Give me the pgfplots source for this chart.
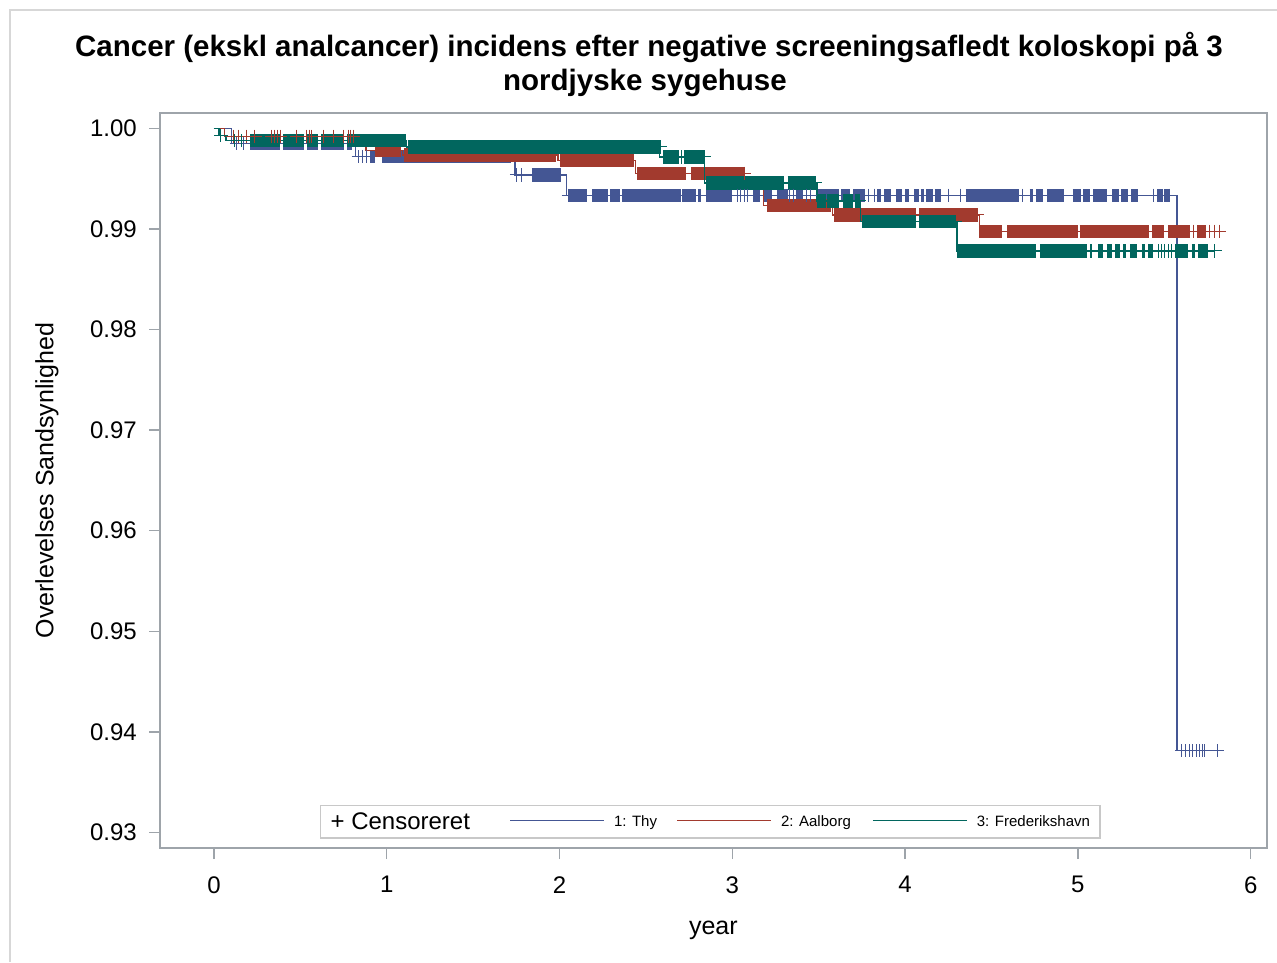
\documentclass[border=0pt]{standalone}
\usepackage{pgfplots}
\pgfplotsset{compat=1.18}
\usepackage{fontspec}
\setmainfont{Liberation Sans}
\definecolor{thy}{RGB}{68,86,148}
\definecolor{aal}{RGB}{162,58,46}
\definecolor{fre}{RGB}{1,102,94}
\definecolor{axisgray}{RGB}{158,164,170}
\definecolor{framegray}{RGB}{215,215,215}
\definecolor{leggray}{RGB}{200,200,200}
\begin{document}
\begin{tikzpicture}
\path[use as bounding box] (0pt,0pt) rectangle (638.5pt,481pt);
\draw[framegray, line width=0.6pt] (5pt,0pt) -- (5pt,476pt) -- (638.5pt,476pt);
\node[anchor=base, font=\bfseries\fontsize{14.75}{17}\selectfont] at (324.5pt,452.5pt) {Cancer (ekskl analcancer) incidens efter negative screeningsafledt koloskopi på 3};
\node[anchor=base, font=\bfseries\fontsize{14.75}{17}\selectfont] at (322.5pt,435.5pt) {nordjyske sygehuse};
\begin{axis}[
  at={(80pt,57pt)}, anchor=south west, scale only axis,
  width=553.35pt, height=367.35pt,
  xmin=-0.3125, xmax=6.0927, ymin=0.92845, ymax=1.00149,
  xtick={0,1,2,3,4,5,6},
  ytick={0.93,0.94,0.95,0.96,0.97,0.98,0.99,1.00},
  yticklabel style={/pgf/number format/.cd, fixed, fixed zerofill, precision=2},
  /pgf/number format/assume math mode=true,
  tick align=outside, tick pos=left, major tick length=5.5pt,
  tick style={color=axisgray, line width=0.7pt},
  axis line style={color=axisgray, line width=0.8pt},
  ticklabel style={font=\fontsize{12}{14}\selectfont, inner sep=0pt},
  xticklabel shift=8.5pt, yticklabel shift=5.9pt,
  every axis x label/.style={at={(axis description cs:0.5,0)}, anchor=base, yshift=-43pt, font=\fontsize{12.5}{14}\selectfont},
  every axis y label/.style={at={(axis description cs:-0.1021,0.5)}, rotate=90, anchor=center, font=\fontsize{12.5}{14}\selectfont},
  xlabel={year}, ylabel={Overlevelses Sandsynlighed},
  unbounded coords=jump,
]
% ---------- 1: Thy ----------
\addplot[thy, line width=0.7pt, const plot, forget plot] coordinates {
 (0,1.0) (0.10,0.99851) (0.82,0.99718) (1.742,0.99536) (2.04,0.99334) (5.573,0.93813) (5.81,0.93813)};
\addplot[thy, line width=6.6pt, forget plot] coordinates {
 (0.21,0.99851) (0.38,0.99851) (nan,nan) (0.40,0.99851) (0.52,0.99851) (nan,nan)
 (0.54,0.99851) (0.60,0.99851) (nan,nan) (0.62,0.99851) (0.75,0.99851) (nan,nan)
 (0.77,0.99851) (0.80,0.99851) (nan,nan)
 (0.90,0.99718) (0.93,0.99718) (nan,nan) (0.97,0.99718) (1.72,0.99718) (nan,nan)
 (1.84,0.99536) (2.01,0.99536) (nan,nan)
 (2.05,0.99334) (2.16,0.99334) (nan,nan) (2.19,0.99334) (2.28,0.99334) (nan,nan)
 (2.29,0.99334) (2.35,0.99334) (nan,nan) (2.36,0.99334) (2.70,0.99334) (nan,nan)
 (2.71,0.99334) (2.79,0.99334) (nan,nan) (2.80,0.99334) (2.82,0.99334) (nan,nan)
 (2.85,0.99334) (3.00,0.99334) (nan,nan) (3.12,0.99334) (3.16,0.99334) (nan,nan)
 (3.18,0.99334) (3.23,0.99334) (nan,nan) (3.26,0.99334) (3.32,0.99334) (nan,nan)
 (3.37,0.99334) (3.41,0.99334) (nan,nan) (3.49,0.99334) (3.62,0.99334) (nan,nan)
 (3.63,0.99334) (3.68,0.99334) (nan,nan) (3.70,0.99334) (3.77,0.99334) (nan,nan)
 (3.84,0.99334) (3.86,0.99334) (nan,nan) (3.88,0.99334) (3.92,0.99334) (nan,nan)
 (3.95,0.99334) (3.98,0.99334) (nan,nan) (4.00,0.99334) (4.02,0.99334) (nan,nan)
 (4.05,0.99334) (4.08,0.99334) (nan,nan) (4.09,0.99334) (4.11,0.99334) (nan,nan)
 (4.12,0.99334) (4.16,0.99334) (nan,nan) (4.17,0.99334) (4.21,0.99334) (nan,nan)
 (4.35,0.99334) (4.66,0.99334) (nan,nan) (4.72,0.99334) (4.74,0.99334) (nan,nan)
 (4.76,0.99334) (4.80,0.99334) (nan,nan) (4.82,0.99334) (4.92,0.99334) (nan,nan)
 (4.97,0.99334) (5.02,0.99334) (nan,nan) (5.03,0.99334) (5.07,0.99334) (nan,nan)
 (5.09,0.99334) (5.17,0.99334) (nan,nan) (5.20,0.99334) (5.24,0.99334) (nan,nan)
 (5.25,0.99334) (5.29,0.99334) (nan,nan) (5.31,0.99334) (5.35,0.99334) (nan,nan)
 (5.46,0.99334) (5.49,0.99334) (nan,nan) (5.50,0.99334) (5.53,0.99334)};
\addplot[thy, only marks, mark=+, mark size=3.3pt, mark options={line width=0.5pt}, forget plot] coordinates {
 (0.13,0.99851) (0.17,0.99851)
 (0.835,0.99718) (0.86,0.99718) (0.88,0.99718)
 (1.75,0.99536) (1.78,0.99536)
 (2.05,0.99334) (3.03,0.99334) (3.05,0.99334) (3.07,0.99334) (3.09,0.99334)
 (3.333,0.99334) (3.351,0.99334) (3.43,0.99334) (3.45,0.99334)
 (3.79,0.99334) (3.82,0.99334) (4.25,0.99334) (4.32,0.99334) (4.68,0.99334)
 (5.44,0.99334) (5.53,0.99334)
 (5.60,0.93813) (5.625,0.93813) (5.645,0.93813) (5.665,0.93813) (5.685,0.93813)
 (5.705,0.93813) (5.72,0.93813) (5.735,0.93813) (5.81,0.93813)};
% ---------- 2: Aalborg ----------
\addplot[aal, line width=0.7pt, const plot, forget plot] coordinates {
 (0,1.0) (0.06,0.9992) (0.88,0.99777) (1.09,0.99735) (1.99,0.99678) (2.44,0.99553)
 (3.07,0.9951) (3.18,0.9923) (3.58,0.99138) (4.43,0.98976) (5.82,0.98976)};
\addplot[aal, line width=6.6pt, forget plot] coordinates {
 (0.93,0.99777) (1.08,0.99777) (nan,nan)
 (1.10,0.99735) (1.98,0.99735) (nan,nan)
 (2.00,0.99678) (2.43,0.99678) (nan,nan)
 (2.45,0.99553) (2.73,0.99553) (nan,nan) (2.76,0.99553) (3.07,0.99553) (nan,nan)
 (3.20,0.9923) (3.57,0.9923) (nan,nan)
 (3.59,0.99138) (4.06,0.99138) (nan,nan) (4.08,0.99138) (4.42,0.99138) (nan,nan)
 (4.43,0.98976) (4.56,0.98976) (nan,nan) (4.59,0.98976) (5.00,0.98976) (nan,nan)
 (5.01,0.98976) (5.41,0.98976) (nan,nan) (5.43,0.98976) (5.50,0.98976) (nan,nan)
 (5.52,0.98976) (5.65,0.98976) (nan,nan) (5.69,0.98976) (5.74,0.98976)};
\addplot[aal, only marks, mark=+, mark size=3.3pt, mark options={line width=0.5pt}, forget plot] coordinates {
 (0.11,0.9992) (0.14,0.9992) (0.19,0.9992) (0.237,0.9992) (0.334,0.9992) (0.353,0.9992)
 (0.366,0.9992) (0.382,0.9992) (0.478,0.9992) (0.536,0.9992) (0.552,0.9992) (0.565,0.9992)
 (0.633,0.9992) (0.69,0.9992) (0.748,0.9992) (0.777,0.9992) (0.79,0.9992) (0.806,0.9992)
 (3.07,0.99553) (4.42,0.99138)
 (5.67,0.98976) (5.76,0.98976) (5.79,0.98976) (5.82,0.98976)};
% ---------- 3: Frederikshavn ----------
\addplot[fre, line width=0.7pt, const plot, forget plot] coordinates {
 (0,1.0) (0.03,0.9993) (0.07,0.99877) (1.115,0.99814) (2.58,0.99715) (2.84,0.99456)
 (3.49,0.99277) (3.74,0.99072) (4.30,0.98780) (5.79,0.98780)};
\addplot[fre, line width=6.6pt, forget plot] coordinates {
 (0.21,0.99877) (0.38,0.99877) (nan,nan) (0.40,0.99877) (0.52,0.99877) (nan,nan)
 (0.54,0.99877) (0.60,0.99877) (nan,nan) (0.62,0.99877) (0.75,0.99877) (nan,nan)
 (0.77,0.99877) (1.11,0.99877) (nan,nan)
 (1.12,0.99814) (2.585,0.99814) (nan,nan)
 (2.60,0.99715) (2.69,0.99715) (nan,nan) (2.72,0.99715) (2.84,0.99715) (nan,nan)
 (2.85,0.99456) (3.30,0.99456) (nan,nan) (3.32,0.99456) (3.48,0.99456) (nan,nan)
 (3.49,0.99277) (3.54,0.99277) (nan,nan) (3.55,0.99277) (3.62,0.99277) (nan,nan)
 (3.64,0.99277) (3.70,0.99277) (nan,nan) (3.71,0.99277) (3.735,0.99277) (nan,nan)
 (3.75,0.99072) (4.06,0.99072) (nan,nan) (4.08,0.99072) (4.29,0.99072) (nan,nan)
 (4.30,0.98780) (4.76,0.98780) (nan,nan) (4.78,0.98780) (5.05,0.98780) (nan,nan)
 (5.069,0.98780) (5.08,0.98780) (nan,nan) (5.118,0.98780) (5.147,0.98780) (nan,nan)
 (5.166,0.98780) (5.195,0.98780) (nan,nan) (5.214,0.98780) (5.243,0.98780) (nan,nan)
 (5.262,0.98780) (5.281,0.98780) (nan,nan) (5.301,0.98780) (5.340,0.98780) (nan,nan)
 (5.368,0.98780) (5.388,0.98780) (nan,nan) (5.407,0.98780) (5.436,0.98780) (nan,nan)
 (5.561,0.98780) (5.638,0.98780) (nan,nan) (5.658,0.98780) (5.677,0.98780) (nan,nan)
 (5.696,0.98780) (5.754,0.98780)};
\addplot[fre, only marks, mark=+, mark size=3.3pt, mark options={line width=0.5pt}, forget plot] coordinates {
 (0.04,0.9993) (0.12,0.99877) (0.16,0.99877) (2.585,0.99814) (2.705,0.99715) (2.84,0.99715)
 (3.48,0.99456) (3.735,0.99277) (4.29,0.99072)
 (5.465,0.98780) (5.484,0.98780) (5.503,0.98780) (5.523,0.98780) (5.542,0.98780) (5.793,0.98780)};
% ---------- legend ----------
\node[draw=leggray, line width=0.6pt, anchor=south west, inner xsep=5pt, inner ysep=4pt, fill=white]
 at (rel axis cs:0.14458,0.01266) {%
 {\fontsize{12}{14}\selectfont + Censoreret}\hspace{20pt}%
 {\color{thy}\rule[4.3pt]{47pt}{0.7pt}}\hspace{5pt}\raisebox{1.6pt}{\fontsize{7.5}{9}\selectfont 1: Thy}\hspace{10pt}%
 {\color{aal}\rule[4.3pt]{47pt}{0.7pt}}\hspace{5pt}\raisebox{1.6pt}{\fontsize{7.5}{9}\selectfont 2: Aalborg}\hspace{11pt}%
 {\color{fre}\rule[4.3pt]{47pt}{0.7pt}}\hspace{5pt}\raisebox{1.6pt}{\fontsize{7.5}{9}\selectfont 3: Frederikshavn}\hspace{3pt}};
\end{axis}
\end{tikzpicture}
\end{document}
